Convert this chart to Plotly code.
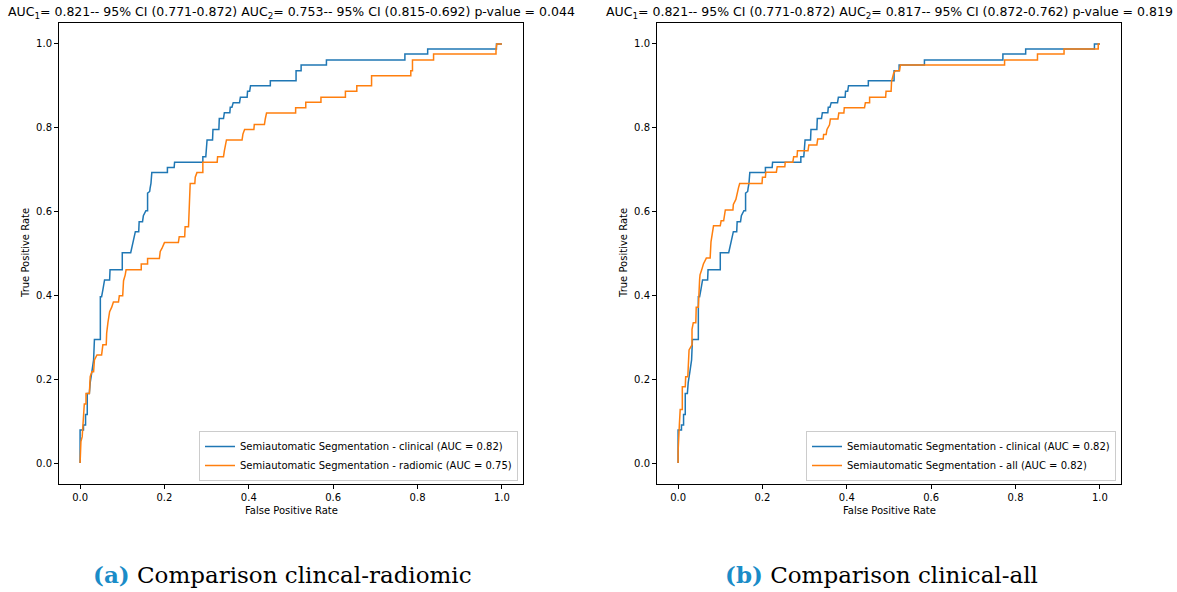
import plotly.graph_objects as go

# ROC curve corner points (false positive rate, true positive rate)
clinical_fpr = [0.000, 0.000, 0.008, 0.008, 0.013, 0.013, 0.017, 0.017, 0.022, 0.024, 0.028, 0.032, 0.034,
                0.048, 0.048, 0.051, 0.054, 0.058, 0.070, 0.071, 0.100, 0.100, 0.120, 0.123, 0.127, 0.131,
                0.139, 0.140, 0.148, 0.150, 0.156, 0.160, 0.160, 0.165, 0.166, 0.168, 0.170, 0.207, 0.207,
                0.223, 0.224, 0.291, 0.291, 0.298, 0.301, 0.314, 0.315, 0.329, 0.330, 0.340, 0.342, 0.355,
                0.356, 0.360, 0.363, 0.378, 0.380, 0.396, 0.397, 0.402, 0.404, 0.451, 0.451, 0.512, 0.512,
                0.524, 0.524, 0.584, 0.584, 0.770, 0.770, 0.824, 0.824, 0.987, 0.987, 1.000]
clinical_tpr = [0.000, 0.079, 0.079, 0.091, 0.091, 0.116, 0.116, 0.166, 0.166, 0.192, 0.218, 0.246, 0.295,
                0.295, 0.397, 0.397, 0.413, 0.437, 0.437, 0.461, 0.461, 0.502, 0.502, 0.516, 0.540, 0.552,
                0.552, 0.576, 0.576, 0.590, 0.602, 0.602, 0.644, 0.648, 0.656, 0.667, 0.693, 0.693, 0.705,
                0.705, 0.718, 0.718, 0.731, 0.731, 0.771, 0.771, 0.796, 0.796, 0.822, 0.822, 0.836, 0.836,
                0.849, 0.849, 0.860, 0.860, 0.873, 0.873, 0.887, 0.887, 0.900, 0.900, 0.912, 0.912, 0.936,
                0.936, 0.950, 0.950, 0.962, 0.962, 0.976, 0.976, 0.988, 0.988, 1.000, 1.000]

radiomic_fpr = [0.000, 0.002, 0.005, 0.006, 0.008, 0.010, 0.014, 0.014, 0.022, 0.024, 0.028, 0.032, 0.034,
                0.040, 0.051, 0.054, 0.062, 0.063, 0.066, 0.070, 0.075, 0.079, 0.091, 0.093, 0.101, 0.103,
                0.107, 0.109, 0.145, 0.145, 0.160, 0.160, 0.188, 0.190, 0.194, 0.200, 0.233, 0.235, 0.248,
                0.249, 0.257, 0.259, 0.261, 0.272, 0.273, 0.277, 0.291, 0.291, 0.325, 0.326, 0.340, 0.342,
                0.344, 0.347, 0.384, 0.386, 0.390, 0.412, 0.413, 0.437, 0.439, 0.442, 0.511, 0.511, 0.535,
                0.535, 0.571, 0.571, 0.629, 0.629, 0.656, 0.656, 0.691, 0.691, 0.784, 0.784, 0.788, 0.788,
                0.838, 0.838, 0.986, 0.986, 0.988, 1.000]
radiomic_tpr = [0.000, 0.051, 0.063, 0.079, 0.091, 0.141, 0.141, 0.166, 0.166, 0.206, 0.218, 0.218, 0.246,
                0.258, 0.258, 0.282, 0.282, 0.310, 0.335, 0.361, 0.372, 0.384, 0.384, 0.399, 0.399, 0.435,
                0.449, 0.461, 0.461, 0.475, 0.475, 0.488, 0.488, 0.505, 0.512, 0.526, 0.526, 0.540, 0.540,
                0.564, 0.564, 0.602, 0.667, 0.667, 0.682, 0.693, 0.693, 0.718, 0.718, 0.731, 0.731, 0.745,
                0.759, 0.771, 0.771, 0.785, 0.796, 0.796, 0.808, 0.808, 0.821, 0.835, 0.835, 0.848, 0.848,
                0.861, 0.861, 0.873, 0.873, 0.887, 0.887, 0.900, 0.900, 0.924, 0.924, 0.936, 0.936, 0.962,
                0.962, 0.976, 0.976, 0.987, 1.000, 1.000]

all_fpr = [0.000, 0.000, 0.003, 0.005, 0.010, 0.010, 0.017, 0.018, 0.023, 0.025, 0.026, 0.033, 0.033,
           0.036, 0.042, 0.043, 0.048, 0.051, 0.052, 0.056, 0.060, 0.067, 0.076, 0.078, 0.080, 0.084,
           0.100, 0.102, 0.108, 0.110, 0.112, 0.130, 0.131, 0.137, 0.139, 0.143, 0.146, 0.199, 0.200,
           0.207, 0.208, 0.233, 0.235, 0.253, 0.254, 0.272, 0.274, 0.282, 0.283, 0.308, 0.310, 0.329,
           0.331, 0.344, 0.345, 0.351, 0.353, 0.359, 0.361, 0.379, 0.381, 0.393, 0.394, 0.442, 0.444,
           0.454, 0.454, 0.492, 0.493, 0.505, 0.506, 0.511, 0.515, 0.525, 0.527, 0.774, 0.774, 0.852,
           0.852, 0.915, 0.915, 0.996, 0.996, 1.000]
all_tpr = [0.000, 0.027, 0.091, 0.128, 0.128, 0.182, 0.182, 0.206, 0.206, 0.242, 0.270, 0.282, 0.319,
           0.335, 0.335, 0.372, 0.372, 0.437, 0.449, 0.461, 0.475, 0.489, 0.489, 0.528, 0.540, 0.566,
           0.566, 0.578, 0.578, 0.592, 0.604, 0.604, 0.617, 0.629, 0.641, 0.656, 0.667, 0.667, 0.682,
           0.682, 0.694, 0.694, 0.707, 0.707, 0.718, 0.718, 0.731, 0.731, 0.745, 0.745, 0.759, 0.759,
           0.773, 0.773, 0.784, 0.784, 0.796, 0.807, 0.821, 0.821, 0.835, 0.835, 0.848, 0.848, 0.860,
           0.860, 0.873, 0.873, 0.887, 0.887, 0.910, 0.930, 0.936, 0.936, 0.950, 0.950, 0.962, 0.962,
           0.976, 0.976, 0.988, 0.988, 1.000, 1.000]

tick_vals = [0.0, 0.2, 0.4, 0.6, 0.8, 1.0]

title_a = ("AUC<sub>1</sub>= 0.821-- 95% CI (0.771-0.872) AUC<sub>2</sub>= 0.753-- 95% CI (0.815-0.692) "
           "p-value = 0.044")
title_b = ("AUC<sub>1</sub>= 0.821-- 95% CI (0.771-0.872) AUC<sub>2</sub>= 0.817-- 95% CI (0.872-0.762) "
           "p-value = 0.819")

BLUE = "#1f77b4"
ORANGE = "#ff7f0e"
W, H = 1177, 592
FONT = "DejaVu Sans"

fig = go.Figure()

fig.add_trace(go.Scatter(x=clinical_fpr, y=clinical_tpr, mode="lines", line=dict(color=BLUE, width=1.5),
                         name="Semiautomatic Segmentation - clinical (AUC = 0.82)",
                         xaxis="x", yaxis="y", legend="legend"))
fig.add_trace(go.Scatter(x=radiomic_fpr, y=radiomic_tpr, mode="lines", line=dict(color=ORANGE, width=1.5),
                         name="Semiautomatic Segmentation - radiomic (AUC = 0.75)",
                         xaxis="x", yaxis="y", legend="legend"))
fig.add_trace(go.Scatter(x=clinical_fpr, y=clinical_tpr, mode="lines", line=dict(color=BLUE, width=1.5),
                         name="Semiautomatic Segmentation - clinical (AUC = 0.82)",
                         xaxis="x2", yaxis="y2", legend="legend2"))
fig.add_trace(go.Scatter(x=all_fpr, y=all_tpr, mode="lines", line=dict(color=ORANGE, width=1.5),
                         name="Semiautomatic Segmentation - all (AUC = 0.82)",
                         xaxis="x2", yaxis="y2", legend="legend2"))

axis_common = dict(range=[-0.05, 1.05], tickvals=tick_vals, tickformat=".1f", showgrid=False,
                   zeroline=False, showline=True, mirror=True, linecolor="black", linewidth=1,
                   ticks="outside", ticklen=4, tickwidth=1, tickcolor="black",
                   tickfont=dict(family=FONT, size=10, color="black"))

legend_common = dict(xanchor="right", yanchor="bottom", bgcolor="rgba(255,255,255,0.8)",
                     bordercolor="#cccccc", borderwidth=1,
                     font=dict(family=FONT, size=10, color="black"), itemwidth=30, tracegroupgap=0)

y_dom = [1 - 484 / H, 1 - 23 / H]
fig.update_layout(
    width=W, height=H, margin=dict(l=0, r=0, t=0, b=0),
    paper_bgcolor="white", plot_bgcolor="white",
    xaxis=dict(domain=[59 / W, 523 / W], anchor="y", **axis_common),
    yaxis=dict(domain=y_dom, anchor="x", **axis_common),
    xaxis2=dict(domain=[657 / W, 1121 / W], anchor="y2", **axis_common),
    yaxis2=dict(domain=y_dom, anchor="x2", **axis_common),
    legend=dict(x=518 / W, y=1 - 481 / H, **legend_common),
    legend2=dict(x=1116 / W, y=1 - 481 / H, **legend_common),
    showlegend=True,
)

annotations = []
for cx, ylab_x, title in [(291, 25, title_a), (889, 623, title_b)]:
    annotations.append(dict(text=title, x=cx / W, y=1 - 12 / H, xref="paper", yref="paper",
                            xanchor="center", yanchor="middle", showarrow=False,
                            font=dict(family=FONT, size=12.5, color="black")))
    annotations.append(dict(text="False Positive Rate", x=cx / W, y=1 - 510 / H, xref="paper", yref="paper",
                            xanchor="center", yanchor="middle", showarrow=False,
                            font=dict(family=FONT, size=10, color="black")))
    annotations.append(dict(text="True Positive Rate", x=ylab_x / W, y=1 - 253 / H, xref="paper",
                            yref="paper", xanchor="center", yanchor="middle", showarrow=False,
                            textangle=-90, font=dict(family=FONT, size=10, color="black")))

CAP_BLUE = "#1a8cc8"
for cx, label, text in [(282, "(a)", "Comparison clincal-radiomic"), (881, "(b)", "Comparison clinical-all")]:
    annotations.append(dict(
        text=f'<span style="color:{CAP_BLUE}"><b>{label}</b></span> {text}',
        x=cx / W, y=1 - 574 / H, xref="paper", yref="paper", xanchor="center", yanchor="middle",
        showarrow=False, font=dict(family="DejaVu Serif", size=23, color="black")))

fig.update_layout(annotations=annotations)

fig.write_html("out.html")
